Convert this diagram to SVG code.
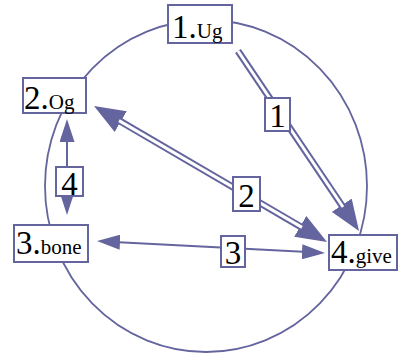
<svg xmlns="http://www.w3.org/2000/svg" width="400" height="353" viewBox="0 0 400 353">
<style>
.box{fill:#fff;stroke:#64649e;stroke-width:2}
.ring{fill:none;stroke:#64649e;stroke-width:1.8}
.single{fill:none;stroke:#64649e;stroke-width:2}
.dblo{fill:none;stroke:#64649e;stroke-width:7}
.dbli{fill:none;stroke:#fff;stroke-width:3}
text{font-family:"Liberation Serif","Times New Roman",serif;fill:#000}
.big{font-size:33px}
.small{font-size:21px}
</style>
<defs>
<marker id="bigHead" markerUnits="userSpaceOnUse" markerWidth="31" markerHeight="24" viewBox="0 0 31 24" refX="1" refY="12" orient="auto-start-reverse">
<path d="M0,0 L31,12 L0,24 z" fill="#64649e"/>
</marker>
<marker id="smallHead" markerUnits="userSpaceOnUse" markerWidth="23" markerHeight="15" viewBox="0 0 23 15" refX="1" refY="7.5" orient="auto-start-reverse">
<path d="M0,0 L23,7.5 L0,15 z" fill="#64649e"/>
</marker>
</defs>
<ellipse class="ring" cx="206" cy="186" rx="161" ry="166"/>
<g id="connectors">
<g id="edge1">
<path class="dblo" d="M238,51 L342.3,206.1" marker-end="url(#bigHead)"/>
<path class="dbli" d="M238,51 L343,207"/>
<rect class="box" x="265" y="98" width="25" height="33"/>
<text class="big" x="277.5" y="127" text-anchor="middle">1</text>
</g>
<g id="edge2">
<path class="dblo" d="M119.9,121.1 L301.1,226.9" marker-start="url(#bigHead)" marker-end="url(#bigHead)"/>
<path class="dbli" d="M119,120.6 L302,227.4"/>
<rect class="box" x="233" y="177" width="27" height="34"/>
<text class="big" x="246.5" y="207" text-anchor="middle">2</text>
</g>
<g id="edge3">
<path class="single" d="M119,242.2 L303,251.8" marker-start="url(#smallHead)" marker-end="url(#smallHead)"/>
<rect class="box" x="221" y="236" width="24" height="31"/>
<text class="big" x="233" y="264" text-anchor="middle">3</text>
</g>
<g id="edge4">
<path class="single" d="M67,141 L67,193" marker-start="url(#smallHead)" marker-end="url(#smallHead)"/>
<rect class="box" x="56" y="167" width="27" height="29"/>
<text class="big" x="69.5" y="195" text-anchor="middle">4</text>
</g>
</g>
<g id="node1">
<rect class="box" x="168" y="5" width="64" height="38"/>
<text x="172" y="37.5"><tspan class="big">1.</tspan><tspan class="small">Ug</tspan></text>
</g>
<g id="node2">
<rect class="box" x="23" y="78" width="63" height="35"/>
<text x="24" y="109"><tspan class="big">2.</tspan><tspan class="small">Og</tspan></text>
</g>
<g id="node3">
<rect class="box" x="14" y="225" width="74" height="37"/>
<text x="16" y="254"><tspan class="big">3.</tspan><tspan class="small">bone</tspan></text>
</g>
<g id="node4">
<rect class="box" x="329" y="235" width="68" height="35"/>
<text x="331" y="263"><tspan class="big">4.</tspan><tspan class="small">give</tspan></text>
</g>
</svg>
